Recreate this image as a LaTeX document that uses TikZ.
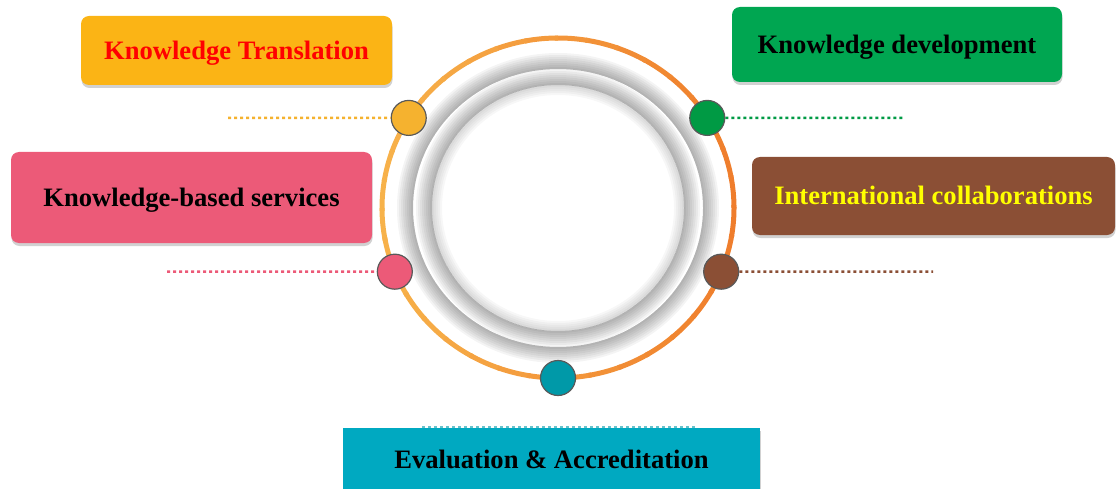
\documentclass[tikz,border=0pt]{standalone}
\usepackage[rgb]{xcolor}
\usepackage{fontspec}
\setmainfont{Liberation Serif}
\usepackage{tikz}
\usetikzlibrary{shadows}

\definecolor{ktyellow}{HTML}{FBB415}
\definecolor{dotyellow}{HTML}{F5B22F}
\definecolor{kdgreen}{HTML}{00A651}
\definecolor{dotgreen}{HTML}{009A44}
\definecolor{kbspink}{HTML}{EC5A78}
\definecolor{icbrown}{HTML}{8B4F35}
\definecolor{eateal}{HTML}{00A9C1}
\definecolor{dotteal}{HTML}{0099A8}
\definecolor{ringlight}{HTML}{F7B24A}
\definecolor{ringdark}{HTML}{EF7D2C}

\begin{document}
\begin{tikzpicture}[x=1pt, y=1pt,
  box/.style={rounded corners=8pt, align=center,
    font=\fontsize{26.6}{30}\selectfont\bfseries, text height=17.6pt, text depth=0pt,
    drop shadow={shadow xshift=0.5pt, shadow yshift=-3pt, opacity=0.3, fill=black!60}},
  dot/.style={circle, draw=black!65, line width=1.2pt, minimum size=35pt, inner sep=0pt},
  dotline/.style={line width=2.5pt, dash pattern=on 3pt off 3pt},
  shade/.style={black, opacity=#1}]

\useasboundingbox (0,0) rectangle (1116,488);

% ring round the middle: light orange on the left, darker on the right
\coordinate (c) at (558,280);
\foreach \a [evaluate=\a as \p using {int(50+50*cos(\a+5))}] in {0,10,...,350}
  \draw[ringdark!\p!ringlight, line width=5pt] (c) ++(\a:176pt and 170pt)
    arc[start angle=\a, end angle=\a+11, x radius=176pt, y radius=170pt];

% two white discs, each rim shaded outwards
\foreach \d [evaluate=\d as \rx using 145+\d/2, evaluate=\d as \ry using 139+\d/2] in {2,4,...,16}
  \draw[shade=0.042, line width=\d pt] (c) ellipse [x radius=\rx pt, y radius=\ry pt];
\foreach \d [evaluate=\d as \rx using 126+\d/2, evaluate=\d as \ry using 123+\d/2] in {2,4,...,16}
  \draw[shade=0.042, line width=\d pt] (c) ellipse [x radius=\rx pt, y radius=\ry pt];
\foreach \d [evaluate=\d as \rx using 126-\d/2, evaluate=\d as \ry using 123-\d/2] in {2,4,...,10}
  \draw[shade=0.03, line width=\d pt] (c) ellipse [x radius=\rx pt, y radius=\ry pt];

% the five boxes
\node[box, fill=ktyellow, text=red, minimum width=311pt, minimum height=69pt]
  (kt) at (236.5,437.5) {Knowledge Translation};
\node[box, fill=kbspink, minimum width=361pt, minimum height=91pt]
  (kbs) at (191.5,290.5) {Knowledge-based services};
\node[box, fill=kdgreen, minimum width=330pt, minimum height=75pt]
  (kd) at (897,443.5) {Knowledge development};
\node[box, fill=icbrown, text=yellow, minimum width=363pt, minimum height=78pt]
  (ic) at (933.5,292) {International collaborations};
\node[box, fill=eateal, rounded corners=0pt, minimum width=417pt, minimum height=64pt]
  (ea) at (551.5,28) {Evaluation \& Accreditation};

% dots on the ring
\path (c) ++(148:176pt and 170pt) node[dot, fill=dotyellow] (dkt) {};
\path (c) ++(32:176pt and 170pt)  node[dot, fill=dotgreen]  (dkd) {};
\path (c) ++(202:176pt and 170pt) node[dot, fill=kbspink]   (dkbs) {};
\path (c) ++(338:176pt and 170pt) node[dot, fill=icbrown]   (dic) {};
\path (c) ++(270:176pt and 170pt) node[dot, fill=dotteal]   (dea) {};

% dotted leaders
\coordinate (ekt)  at (228,370.1);
\coordinate (ekd)  at (905,370.1);
\coordinate (ekbs) at (167,216.3);
\coordinate (eic)  at (933,216.3);
\coordinate (ea1)  at (422,61);
\coordinate (ea2)  at (695,61);
\draw[dotline, dotyellow] (ekt) -- (dkt.west);
\draw[dotline, dotgreen] (dkd.east) -- (ekd);
\draw[dotline, kbspink] (ekbs) -- (dkbs.west);
\draw[dotline, icbrown] (dic.east) -- (eic);
\draw[dotline, dotteal!60] (ea1) -- (ea2);

\end{tikzpicture}
\end{document}
